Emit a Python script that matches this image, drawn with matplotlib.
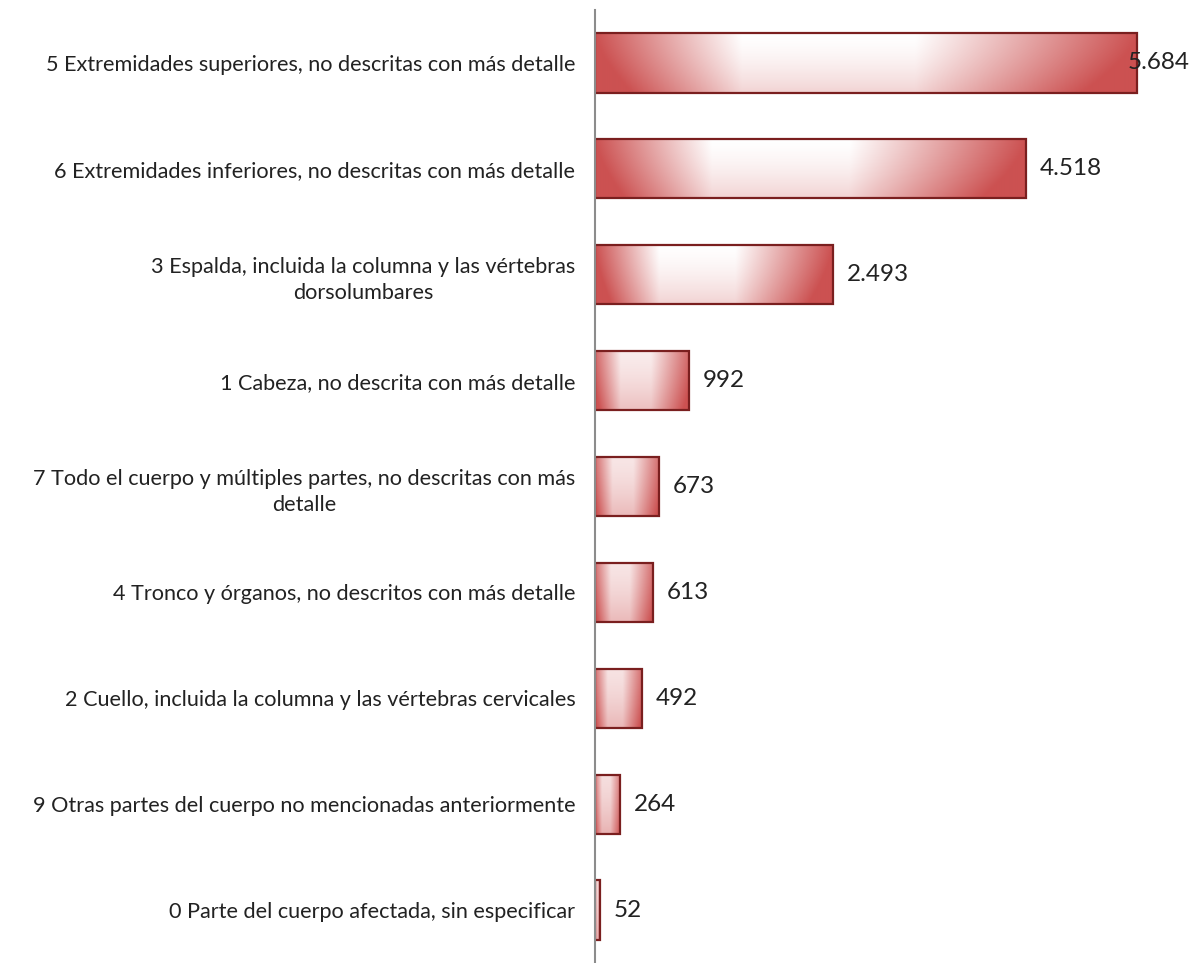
import numpy as np
import matplotlib
matplotlib.use("Agg")
from matplotlib import pyplot as plt

plt.rcParams['font.family'] = ['Lato', 'DejaVu Sans']

categories = [
    '5 Extremidades superiores, no descritas con más detalle',
    '6 Extremidades inferiores, no descritas con más detalle',
    '3 Espalda, incluida la columna y las vértebras\ndorsolumbares',
    '1 Cabeza, no descrita con más detalle',
    '7 Todo el cuerpo y múltiples partes, no descritas con más\ndetalle',
    '4 Tronco y órganos, no descritos con más detalle',
    '2 Cuello, incluida la columna y las vértebras cervicales',
    '9 Otras partes del cuerpo no mencionadas anteriormente',
    '0 Parte del cuerpo afectada, sin especificar',
]
values = [5684, 4518, 2493, 992, 673, 613, 492, 264, 52]

red = np.array([0.80, 0.32, 0.32])
white = np.array([1.0, 1.0, 1.0])
bar_h = 0.56


def gradient_img(strength=1.0, base=0.0, nx=300, ny=60):
    # red ends, white band a bit left of centre, lighter at the top
    xs = np.linspace(-1, 1, nx)
    ys = np.linspace(0, 1, ny)
    X, Y = np.meshgrid(xs, ys)
    tl = np.clip((-0.46 - X) / 0.54, 0, 1)
    tr = np.clip((X - 0.18) / 0.82, 0, 1)
    tx = np.maximum(tl, tr) * strength
    ty = 0.25 * Y ** 1.5
    t = np.clip(tx + ty + base, 0, 1)
    img = white[None, None, :] * (1 - t[..., None]) + red[None, None, :] * t[..., None]
    return img


fig = plt.figure(figsize=(11.99, 9.63), dpi=100)
ax = fig.add_axes([0.496, 0.0, 0.504, 0.9896])

for i, v in enumerate(values):
    k = min(1.0, v / 2000)
    img = gradient_img(0.55 + 0.45 * k, 0.22 * (1 - k))
    ax.imshow(img, extent=(0, v, i + bar_h / 2, i - bar_h / 2),
              aspect='auto', interpolation='bilinear', zorder=2)
ax.barh(range(len(values)), values, height=bar_h, facecolor='none',
        edgecolor='#7a1f1f', linewidth=1.6, zorder=3)

for i, v in enumerate(values):
    lab = f"{v:,}".replace(',', '.')
    off = -7 if v == max(values) else 10
    ax.annotate(lab, xy=(v, i), xytext=(off, 0), textcoords='offset points',
                ha='left', va='center', fontsize=17.5, color='#222222', zorder=4)

ax.set_xlim(0, 6334)
ax.set_ylim(len(values) - 0.5, -0.5)
ax.set_yticks(range(len(values)))
ax.set_yticklabels(categories, fontsize=15.6, color='#222222',
                   multialignment='center', linespacing=1.4)
ax.tick_params(axis='y', length=0, pad=14)
ax.set_xticks([])
for s in ['top', 'right', 'bottom']:
    ax.spines[s].set_visible(False)
ax.spines['left'].set_color('#8c8c8c')
ax.spines['left'].set_linewidth(1.5)
ax.spines['left'].set_zorder(5)

fig.savefig('out.png', dpi=100)
